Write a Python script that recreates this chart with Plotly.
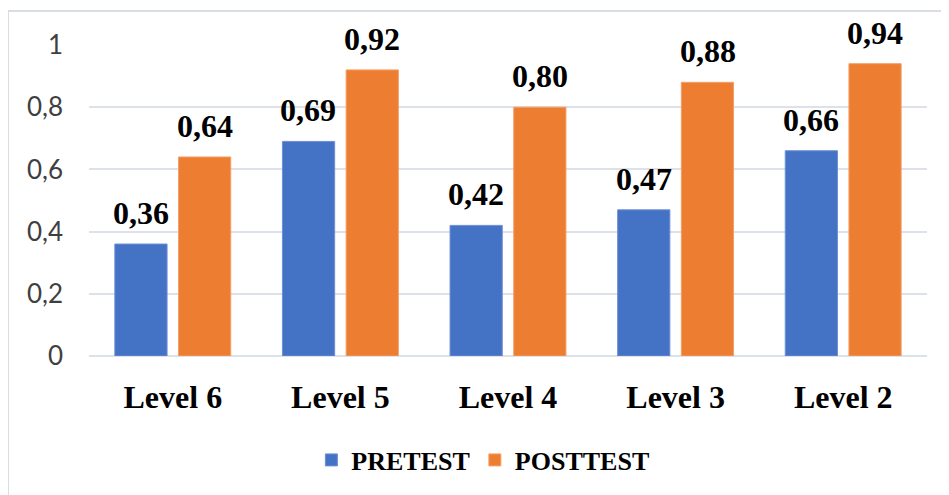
import plotly.graph_objects as go

categories = ["Level 6", "Level 5", "Level 4", "Level 3", "Level 2"]
pretest = [0.36, 0.69, 0.42, 0.47, 0.66]
posttest = [0.64, 0.92, 0.80, 0.88, 0.94]
series_names = ["PRETEST", "POSTTEST"]
y_ticks = [0, 0.2, 0.4, 0.6, 0.8, 1]

BLUE = "#4472C4"
ORANGE = "#ED7D31"
SERIF = "Liberation Serif, Times New Roman, serif"
SANS = "Lato, Carlito, Calibri, sans-serif"

fig = go.Figure()
fig.add_trace(go.Bar(name=series_names[0], x=categories, y=pretest,
                     marker=dict(color=BLUE, line=dict(color="#6f8fd6", width=1))))
fig.add_trace(go.Bar(name=series_names[1], x=categories, y=posttest,
                     marker=dict(color=ORANGE, line=dict(color="#f3a06a", width=1))))

annotations = []
for vals, shift in ((pretest, -32), (posttest, 32)):
    for c, v in zip(categories, vals):
        annotations.append(dict(
            x=c, y=v, xref="x", yref="y", text=f"{v:.2f}".replace(".", ","),
            showarrow=False, xshift=shift, yanchor="bottom", yshift=11,
            font=dict(family=SERIF, size=32, color="#000000", weight="bold")))

OFF = 8  # page body margin
W, H = 949 - OFF, 495 - OFF
L, T = 89 - OFF, 45 - OFF
R = W - (927 - OFF)
B = H - (356 - OFF)
pw, ph = W - L - R, H - T - B

def px_x(p):
    return (p - OFF - L) / pw

def px_y(p):
    return (H - B - (p - OFF)) / ph

fig.update_layout(
    width=W, height=H,
    margin=dict(l=L, r=R, t=T, b=B),
    paper_bgcolor="white", plot_bgcolor="white",
    separators=", ",
    barmode="group", bargap=0.24, bargroupgap=0.18,
    annotations=annotations,
    showlegend=True,
    legend=dict(orientation="h", x=0.47, xanchor="center", y=px_y(460), yanchor="middle",
                font=dict(family=SERIF, size=26, color="#000000", weight="bold"),
                itemwidth=30, traceorder="normal", bgcolor="rgba(0,0,0,0)"),
    xaxis=dict(showgrid=False, showline=False, ticks="", ticklabelstandoff=19,
               tickfont=dict(family=SERIF, size=32, color="#000000", weight="bold")),
    yaxis=dict(range=[0, 1.0], tickvals=y_ticks, showgrid=True, gridcolor="#dde1ea",
               gridwidth=2, zeroline=True, zerolinecolor="#dde1ea", zerolinewidth=2,
               showline=False, ticks="", ticklabelstandoff=25,
               tickfont=dict(family=SANS, size=26, color="#3f3f3f")),
    shapes=[dict(type="rect", xref="paper", yref="paper",
                 x0=px_x(8), x1=px_x(970), y0=px_y(520), y1=px_y(11),
                 line=dict(color="#d9dde6", width=2), fillcolor="rgba(0,0,0,0)", layer="below")],
)
fig.update_traces(cliponaxis=False)

fig.write_html("out.html")
